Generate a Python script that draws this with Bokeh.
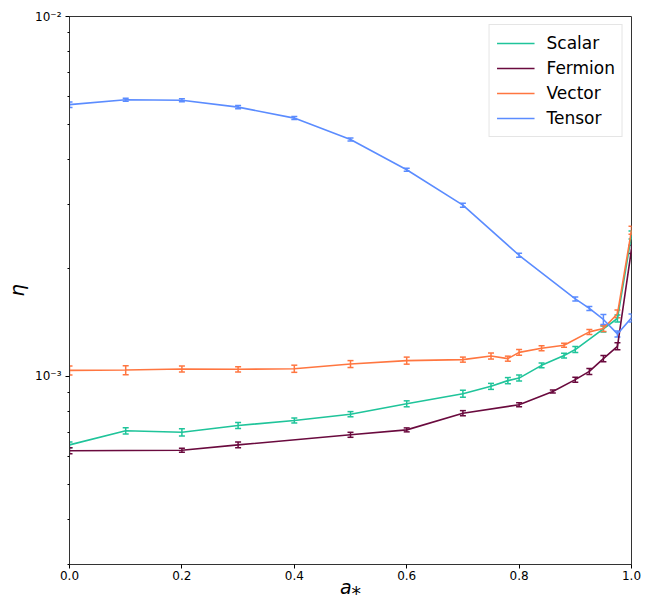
from bokeh.plotting import figure
from bokeh.models import (ColumnDataSource, Whisker, TeeHead, FixedTicker,
                          CustomJSTickFormatter, PrintfTickFormatter, Legend,
                          LegendItem, Range1d)
from bokeh.embed import file_html
from bokeh.resources import INLINE

# ---------------- data ----------------
scalar_x = [0.0, 0.1, 0.2, 0.3, 0.4, 0.5, 0.6, 0.7, 0.75, 0.78, 0.8, 0.84, 0.88, 0.9, 0.95, 0.975, 1.0]
scalar_y = [6.45e-4, 7.06e-4, 6.99e-4, 7.30e-4, 7.54e-4, 7.85e-4, 8.39e-4, 8.95e-4, 9.38e-4, 9.73e-4,
            9.89e-4, 1.073e-3, 1.142e-3, 1.187e-3, 1.355e-3, 1.448e-3, 2.47e-3]
scalar_err = [1.2e-5, 1.4e-5, 1.6e-5, 1.4e-5, 1.2e-5, 1.3e-5, 1.6e-5, 2.0e-5, 1.8e-5, 1.9e-5,
              1.9e-5, 1.7e-5, 1.8e-5, 2.3e-5, 2.6e-5, 3.2e-5, 6.3e-5]

fermion_x = [0.0, 0.2, 0.3, 0.5, 0.6, 0.7, 0.8, 0.86, 0.9, 0.925, 0.95, 0.975, 1.0]
fermion_y = [6.21e-4, 6.23e-4, 6.45e-4, 6.88e-4, 7.10e-4, 7.90e-4, 8.34e-4, 9.08e-4, 9.79e-4,
             1.032e-3, 1.120e-3, 1.212e-3, 2.254e-3]
fermion_err = [1.2e-5, 0.8e-5, 1.2e-5, 1.1e-5, 0.9e-5, 1.3e-5, 1.1e-5, 0.9e-5, 1.6e-5,
               2.0e-5, 2.2e-5, 2.7e-5, 5.8e-5]

vector_x = [0.0, 0.1, 0.2, 0.3, 0.4, 0.5, 0.6, 0.7, 0.75, 0.78, 0.8, 0.84, 0.88, 0.925, 0.95, 0.975, 1.0]
vector_y = [1.039e-3, 1.041e-3, 1.048e-3, 1.046e-3, 1.050e-3, 1.082e-3, 1.106e-3, 1.113e-3, 1.139e-3,
            1.120e-3, 1.166e-3, 1.197e-3, 1.220e-3, 1.329e-3, 1.358e-3, 1.492e-3, 2.546e-3]
vector_err = [3.0e-5, 3.0e-5, 2.0e-5, 1.7e-5, 2.4e-5, 2.4e-5, 2.5e-5, 1.8e-5, 2.2e-5,
              1.8e-5, 2.2e-5, 1.9e-5, 1.6e-5, 2.1e-5, 2.6e-5, 3.8e-5, 6.5e-5]

tensor_x = [0.0, 0.1, 0.2, 0.3, 0.4, 0.5, 0.6, 0.7, 0.8, 0.9, 0.925, 0.95, 0.975, 1.0]
tensor_y = [5.69e-3, 5.87e-3, 5.85e-3, 5.60e-3, 5.22e-3, 4.55e-3, 3.75e-3, 2.99e-3, 2.17e-3,
            1.641e-3, 1.544e-3, 1.439e-3, 1.312e-3, 1.454e-3]
tensor_err = [1.0e-4, 5.6e-5, 5.6e-5, 5.4e-5, 5.0e-5, 4.4e-5, 3.6e-5, 3.8e-5, 2.8e-5,
              2.1e-5, 2.0e-5, 4.6e-5, 2.5e-5, 3.7e-5]

series_names = ["Scalar", "Fermion", "Vector", "Tensor"]
series_colors = ["#1fc49a", "#6a0a3e", "#ff7640", "#5b8cff"]

x_ticks = [0.0, 0.2, 0.4, 0.6, 0.8, 1.0]
y_major_ticks = [1e-3, 1e-2]
y_minor_ticks = [3e-4, 4e-4, 5e-4, 6e-4, 7e-4, 8e-4, 9e-4,
                 2e-3, 3e-3, 4e-3, 5e-3, 6e-3, 7e-3, 8e-3, 9e-3]

# ---------------- figure ----------------
FONT = "DejaVu Sans"
p = figure(width=646, height=600, y_axis_type="log",
           x_range=Range1d(0.0, 1.0), y_range=Range1d(3e-4, 1e-2),
           output_backend="svg", toolbar_location=None,
           min_border_left=69, min_border_right=15,
           min_border_top=16, min_border_bottom=35)
p.xgrid.visible = False
p.ygrid.visible = False
p.outline_line_color = "#333333"
p.outline_line_width = 1
p.background_fill_color = "white"
p.border_fill_color = "white"

for ax in (p.xaxis[0], p.yaxis[0]):
    ax.axis_line_color = "#333333"
    ax.axis_line_width = 1
    ax.major_tick_line_color = "black"
    ax.minor_tick_line_color = "black"
    ax.major_tick_out = 4
    ax.major_tick_in = 0
    ax.minor_tick_out = 2
    ax.minor_tick_in = 0
    ax.major_label_text_font = FONT
    ax.major_label_text_font_size = "12px"
    ax.major_label_text_color = "black"
    ax.axis_label_text_font = FONT
    ax.axis_label_text_font_style = "italic"
    ax.axis_label_text_font_size = "20px"
    ax.axis_label_text_color = "black"

p.xaxis.ticker = FixedTicker(ticks=x_ticks)
p.xaxis.formatter = PrintfTickFormatter(format="%.1f")
p.xaxis.major_label_standoff = 2
p.xaxis.axis_label = "a\u204e"
p.xaxis.axis_label_text_font_size = "19px"
p.xaxis.axis_label_standoff = -7

p.yaxis.ticker = FixedTicker(ticks=y_major_ticks, minor_ticks=y_minor_ticks)
p.yaxis.formatter = CustomJSTickFormatter(code="""
const e = Math.round(Math.log10(tick));
const sup = {'-':'\u207b','0':'\u2070','1':'\u00b9','2':'\u00b2','3':'\u00b3','4':'\u2074',
             '5':'\u2075','6':'\u2076','7':'\u2077','8':'\u2078','9':'\u2079'};
return '10' + String(e).split('').map(c => sup[c]).join('');
""")
p.yaxis.major_label_standoff = 4
p.yaxis.axis_label = "\u03b7"
p.yaxis.axis_label_standoff = 3

datasets = [
    (scalar_x, scalar_y, scalar_err),
    (fermion_x, fermion_y, fermion_err),
    (vector_x, vector_y, vector_err),
    (tensor_x, tensor_y, tensor_err),
]

items = []
for (xs, ys, es), name, col in zip(datasets, series_names, series_colors):
    src = ColumnDataSource(dict(
        x=xs, y=ys,
        upper=[v + e for v, e in zip(ys, es)],
        lower=[v - e for v, e in zip(ys, es)],
    ))
    r = p.line("x", "y", source=src, line_color=col, line_width=1.6)
    w = Whisker(source=src, base="x", upper="upper", lower="lower", dimension="height",
                line_color=col, line_width=1.5,
                upper_head=TeeHead(size=6, line_color=col, line_width=1.5),
                lower_head=TeeHead(size=6, line_color=col, line_width=1.5))
    p.add_layout(w)
    items.append(LegendItem(label=name, renderers=[r]))

legend = Legend(items=items, location="top_right")
legend.label_text_font = FONT
legend.label_text_font_size = "17px"
legend.label_text_color = "black"
legend.glyph_width = 38
legend.glyph_height = 22
legend.label_height = 22
legend.label_standoff = 12
legend.spacing = 3
legend.padding = 7
legend.margin = 8
legend.border_line_color = "#cccccc"
legend.border_line_width = 1
legend.background_fill_alpha = 0.8
p.add_layout(legend, "center")

open("out.html", "w").write(file_html(p, INLINE))
